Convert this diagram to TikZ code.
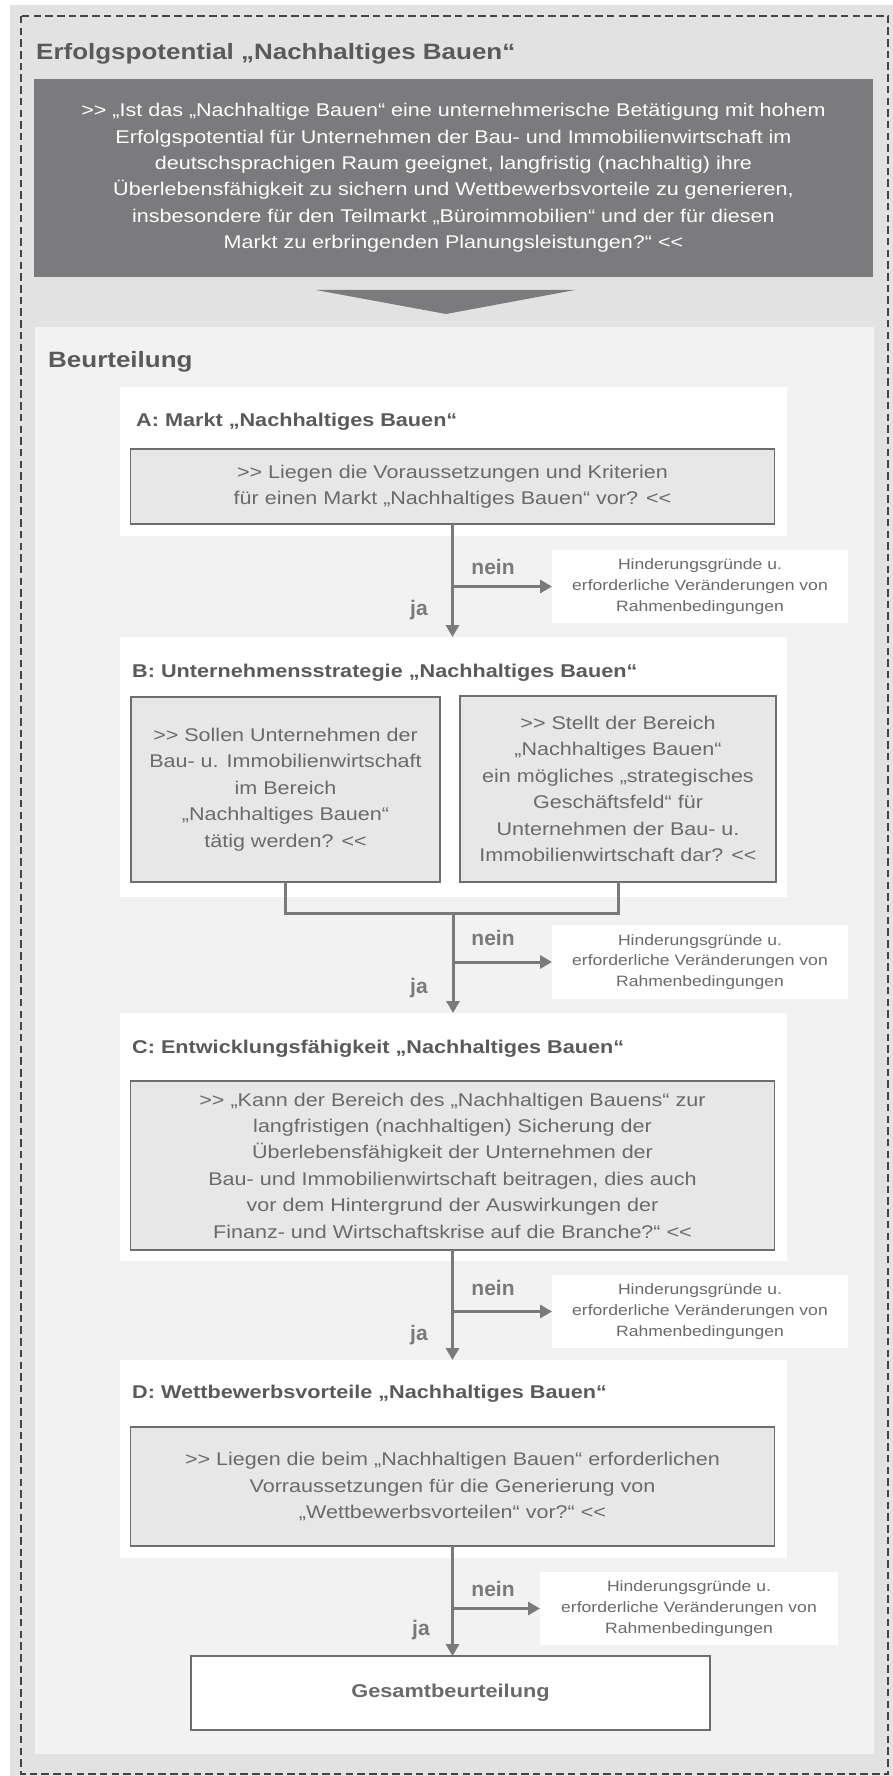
\documentclass[tikz,border=0pt]{standalone}
\usepackage{fontspec}
\setmainfont{Liberation Sans}[FakeStretch=1.17,Ligatures=TeXOff]
\newfontfamily\plainsans{Liberation Sans}[Ligatures=TeXOff]
\usetikzlibrary{arrows.meta}
\definecolor{bgout}{HTML}{E2E2E2}
\definecolor{panelbg}{HTML}{F2F2F2}
\definecolor{darkbox}{HTML}{7B7B7D}
\definecolor{qfill}{HTML}{E7E7E7}
\definecolor{qborder}{HTML}{6E6E6E}
\definecolor{titlec}{HTML}{5A5A5A}
\definecolor{qtext}{HTML}{6A6A6A}
\definecolor{arrowc}{HTML}{7A7A7A}
\definecolor{framec}{HTML}{444444}
\newcommand\bigtitlefont{\fontsize{22.2}{26}\selectfont\bfseries}
\newcommand\ptfont{\fontsize{18.5}{22}\selectfont\bfseries}
\newcommand\qfont{\fontsize{18.4}{26.4}\selectfont}
\newcommand\hfont{\fontsize{15}{20.7}\selectfont}
\newcommand\labfont{\plainsans\fontsize{21}{24}\selectfont\bfseries}
\newcommand\gesfont{\fontsize{18.6}{22}\selectfont\bfseries}
\begin{document}
\begin{tikzpicture}[x=1pt,y=-1pt,
  fixedbox/.style={inner sep=0pt,outer sep=0pt},
  whitepanel/.style={fixedbox,fill=white},
  qbox/.style={fixedbox,fill=qfill,draw=qborder,line width=1.5pt,align=center,text=qtext,font=\qfont},
  hbox/.style={fixedbox,fill=white,align=center,text=qtext,font=\hfont},
  ptitle/.style={anchor=base west,inner sep=0pt,text=titlec,font=\ptfont},
  bigtitle/.style={anchor=base west,inner sep=0pt,text=titlec,font=\bigtitlefont},
  lab/.style={inner sep=0pt,text=arrowc,font=\labfont},
  conn/.style={draw=arrowc,line width=3pt,line join=miter},
  arr/.style={conn,-{Triangle[width=13pt,length=12pt]}}]
\useasboundingbox (0,0) rectangle (893,1776);
\fill[white] (0,0) rectangle (893,1776);
\fill[bgout] (10,5) rectangle (893,1776);
\draw[framec,line width=2.8pt,dash pattern=on 7.5pt off 4.2pt] (21,16) rectangle (888,1774);

\node[bigtitle] (title) at (36,60) {Erfolgspotential „Nachhaltiges Bauen“};
\node[fixedbox,fill=darkbox,minimum width=839pt,minimum height=198pt,text=white,align=center,font=\qfont] (main) at (453.5,178)
 {>> „Ist das „Nachhaltige Bauen“ eine unternehmerische Betätigung mit hohem\\
  Erfolgspotential für Unternehmen der Bau- und Immobilienwirtschaft im\\
  deutschsprachigen Raum geeignet, langfristig (nachhaltig) ihre\\
  Überlebensfähigkeit zu sichern und Wettbewerbsvorteile zu generieren,\\
  insbesondere für den Teilmarkt „Büroimmobilien“ und der für diesen\\
  Markt zu erbringenden Planungsleistungen?“ <<};
\fill[darkbox] (316,290) -- (575,290) -- (446,314) -- cycle;

\node[fixedbox,fill=panelbg,minimum width=839pt,minimum height=1427pt] (panel) at (454.5,1040.5) {};
\node[bigtitle] (beur) at (48,367) {Beurteilung};

% A
\node[whitepanel,minimum width=667pt,minimum height=149pt] (pA) at (453.5,461.5) {};
\node[ptitle] (tA) at (136,426) {A: Markt „Nachhaltiges Bauen“};
\node[qbox,minimum width=644pt,minimum height=75pt] (qA) at (452.5,486.5)
 {>> Liegen die Voraussetzungen und Kriterien\\ für einen Markt „Nachhaltiges Bauen“ vor? <<};
\node[hbox,minimum width=296pt,minimum height=73pt] (h1) at (700,586.5)
 {Hinderungsgründe u.\\erforderliche Veränderungen von\\Rahmenbedingungen};

% B
\node[whitepanel,minimum width=667pt,minimum height=260pt] (pB) at (453.5,767) {};
\node[ptitle] (tB) at (132,677) {B: Unternehmensstrategie „Nachhaltiges Bauen“};
\node[qbox,minimum width=309pt,minimum height=185pt] (B1) at (285.5,789.5)
 {>> Sollen Unternehmen der\\Bau- u. Immobilienwirtschaft\\im Bereich\\„Nachhaltiges Bauen“\\tätig werden? <<};
\node[qbox,minimum width=316pt,minimum height=186pt] (B2) at (618,789)
 {>> Stellt der Bereich\\„Nachhaltiges Bauen“\\ein mögliches „strategisches\\Geschäftsfeld“ für\\Unternehmen der Bau- u.\\Immobilienwirtschaft dar? <<};
\node[hbox,minimum width=296pt,minimum height=74pt] (h2) at (700,962)
 {Hinderungsgründe u.\\erforderliche Veränderungen von\\Rahmenbedingungen};

% C
\node[whitepanel,minimum width=667pt,minimum height=248pt] (pC) at (453.5,1137) {};
\node[ptitle] (tC) at (132,1053) {C: Entwicklungsfähigkeit „Nachhaltiges Bauen“};
\node[qbox,minimum width=644pt,minimum height=169pt] (qC) at (452.5,1165.5)
 {>> „Kann der Bereich des „Nachhaltigen Bauens“ zur\\langfristigen (nachhaltigen) Sicherung der\\Überlebensfähigkeit der Unternehmen der\\Bau- und Immobilienwirtschaft beitragen, dies auch\\vor dem Hintergrund der Auswirkungen der\\Finanz- und Wirtschaftskrise auf die Branche?“ <<};
\node[hbox,minimum width=296pt,minimum height=73pt] (h3) at (700,1311.5)
 {Hinderungsgründe u.\\erforderliche Veränderungen von\\Rahmenbedingungen};

% D
\node[whitepanel,minimum width=667pt,minimum height=198pt] (pD) at (453.5,1459) {};
\node[ptitle] (tD) at (132,1398) {D: Wettbewerbsvorteile „Nachhaltiges Bauen“};
\node[qbox,minimum width=644pt,minimum height=119pt] (qD) at (452.5,1486.5)
 {>> Liegen die beim „Nachhaltigen Bauen“ erforderlichen\\Vorraussetzungen für die Generierung von\\„Wettbewerbsvorteilen“ vor?“ <<};
\node[hbox,minimum width=298pt,minimum height=73pt] (h4) at (689,1608.5)
 {Hinderungsgründe u.\\erforderliche Veränderungen von\\Rahmenbedingungen};

\node[fixedbox,fill=white,draw=qborder,line width=1.5pt,minimum width=519pt,minimum height=74pt,text=qtext,font=\gesfont] (ges) at (450.5,1693) {Gesamtbeurteilung};

% connectors A
\draw[arr] (qA.south) -- (qA.south |- pB.north);
\draw[arr] (qA.south |- h1.west) -- (h1.west);
\node[lab] (n1) at (493,567) {nein};
\node[lab] (j1) at (419,610) {ja};

% connectors B
\coordinate (jB) at (453,913);
\draw[conn] (B1.south) -- (B1.south |- jB) -- (B2.south |- jB) -- (B2.south);
\draw[arr] (jB) -- (jB |- pC.north);
\draw[arr] (jB |- h2.west) -- (h2.west);
\node[lab] (n2) at (493,938) {nein};
\node[lab] (j2) at (419,988) {ja};

% connectors C
\draw[arr] (qC.south) -- (qC.south |- pD.north);
\draw[arr] (qC.south |- h3.west) -- (h3.west);
\node[lab] (n3) at (493,1288) {nein};
\node[lab] (j3) at (419,1335) {ja};

% connectors D
\draw[arr] (qD.south) -- (qD.south |- ges.north);
\draw[arr] (qD.south |- h4.west) -- (h4.west);
\node[lab] (n4) at (493,1589) {nein};
\node[lab] (j4) at (421,1630) {ja};
\end{tikzpicture}
\end{document}
